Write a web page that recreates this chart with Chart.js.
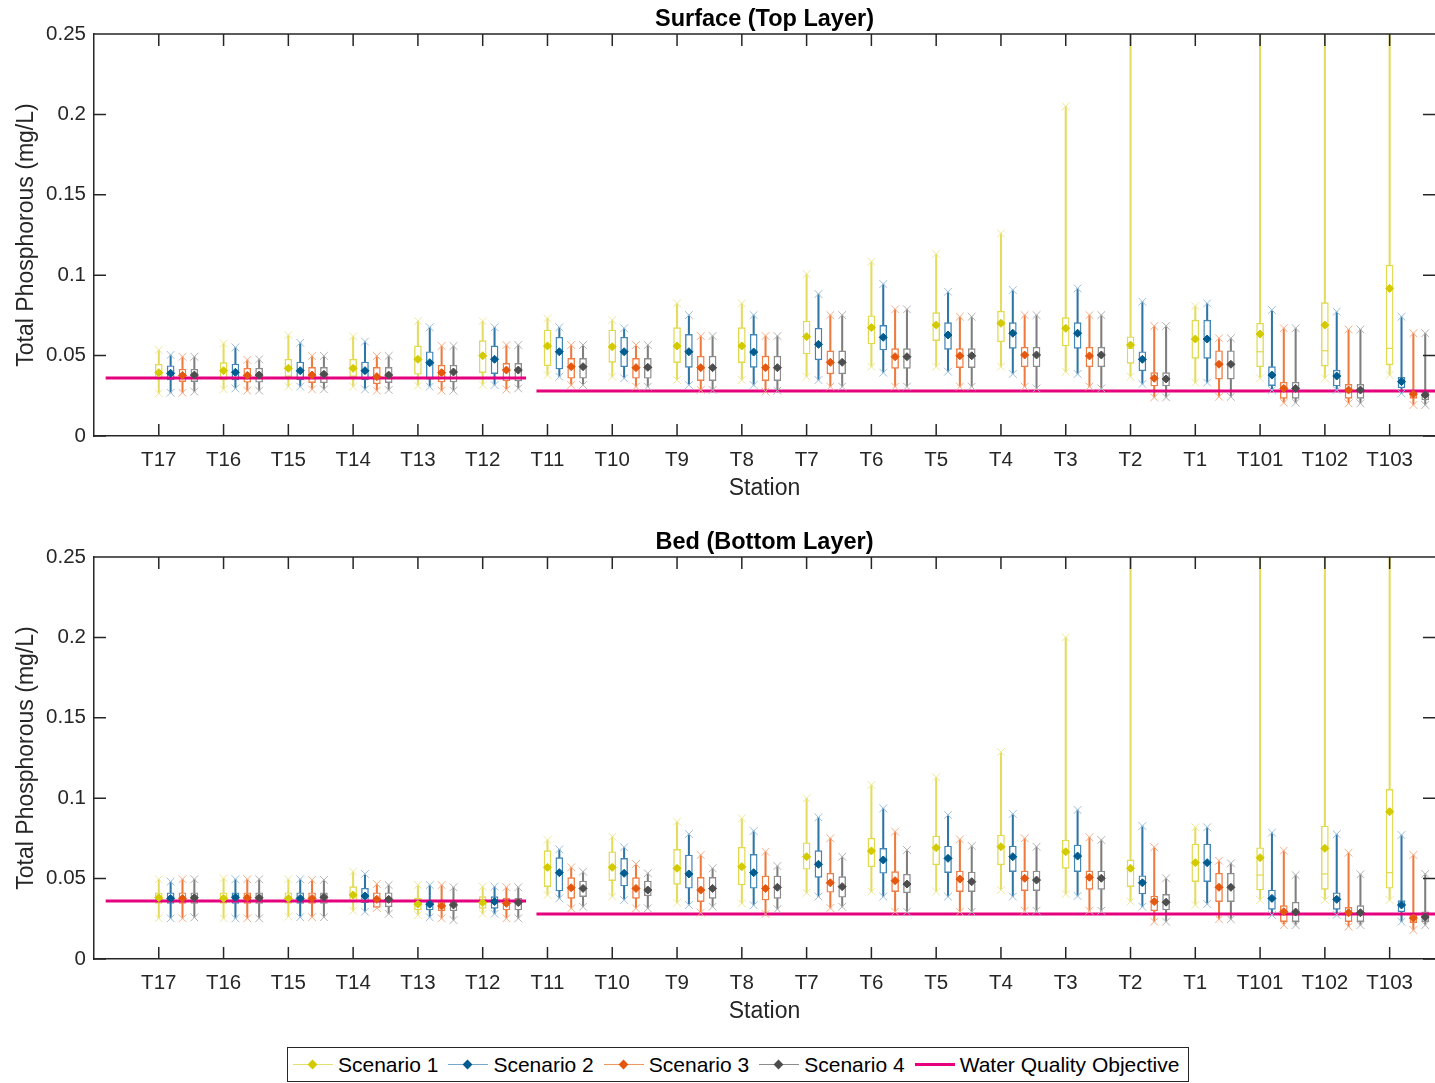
<!DOCTYPE html>
<html>
<head>
<meta charset="utf-8">
<script src="https://cdn.jsdelivr.net/npm/chart.js@4.4.1/dist/chart.umd.min.js"></script>
<style>
  html, body { margin: 0; padding: 0; background: #fff; overflow: hidden; }
  body { width: 1435px; height: 1083px; position: relative; font-family: 'Liberation Sans', Arial, sans-serif; }
  canvas { position: absolute; left: 0; }
  #surface { top: 0; }
  #bed { top: 523px; }
  #legend {
    position: absolute; left: 287px; top: 1047px; width: 902px; height: 35px;
    border: 1px solid #262626; display: flex; align-items: center; flex-wrap: nowrap;
    font-size: 21px; color: #000; padding-left: 5px; box-sizing: border-box; white-space: nowrap;
  }
  .item { display: flex; align-items: center; margin-right: 10px; flex-shrink: 0; }
  .sw { position: relative; width: 40px; height: 20px; margin-right: 5px; flex-shrink: 0; }
  .sw .ln { position: absolute; left: 0; right: 0; top: 9px; height: 1.5px; }
  .sw .dm { position: absolute; left: 16px; top: 6px; width: 7px; height: 7px; transform: rotate(45deg); }
</style>
</head>
<body>
<canvas id="surface" width="1435" height="510"></canvas>
<canvas id="bed" width="1435" height="510"></canvas>
<div id="legend"></div>
<script>
// categories
const stations = ['T17', 'T16', 'T15', 'T14', 'T13', 'T12', 'T11', 'T10', 'T9', 'T8',
  'T7', 'T6', 'T5', 'T4', 'T3', 'T2', 'T1', 'T101', 'T102', 'T103'];
const scenarios = ['Scenario 1', 'Scenario 2', 'Scenario 3', 'Scenario 4'];
const yTicks = [0, 0.05, 0.1, 0.15, 0.2, 0.25];

// water quality objective: level and station span of each segment
const wqoLabel = 'Water Quality Objective';
const wqoLevel = [0.036, 0.028];
const wqoFrom = [0.18, 6.83];
const wqoTo = [6.67, 20.7];

// Surface (Top Layer) - one row per scenario
const topMax = [
  [0.0535, 0.0576, 0.0628, 0.0620, 0.0715, 0.0715, 0.0732, 0.0721, 0.0825, 0.0825, 0.1007, 0.1084, 0.1132, 0.1260, 0.2050, 0.3000, 0.0808, 0.3000, 0.3000, 0.3000],
  [0.0504, 0.0551, 0.0580, 0.0587, 0.0676, 0.0676, 0.0676, 0.0670, 0.0752, 0.0752, 0.0883, 0.0945, 0.0897, 0.0908, 0.0918, 0.0835, 0.0825, 0.0784, 0.0773, 0.0742],
  [0.0493, 0.0473, 0.0498, 0.0498, 0.0560, 0.0566, 0.0566, 0.0566, 0.0622, 0.0622, 0.0752, 0.0788, 0.0742, 0.0752, 0.0752, 0.0684, 0.0608, 0.0670, 0.0663, 0.0639],
  [0.0493, 0.0477, 0.0498, 0.0498, 0.0560, 0.0566, 0.0566, 0.0566, 0.0622, 0.0622, 0.0752, 0.0788, 0.0742, 0.0752, 0.0752, 0.0684, 0.0608, 0.0670, 0.0663, 0.0639]
];
const topQ3 = [
  [0.0446, 0.0456, 0.0477, 0.0477, 0.0560, 0.0593, 0.0659, 0.0659, 0.0674, 0.0674, 0.0715, 0.0748, 0.0767, 0.0777, 0.0736, 0.0617, 0.0721, 0.0701, 0.0829, 0.1063],
  [0.0437, 0.0448, 0.0460, 0.0460, 0.0524, 0.0560, 0.0614, 0.0614, 0.0632, 0.0632, 0.0670, 0.0688, 0.0705, 0.0705, 0.0705, 0.0524, 0.0721, 0.0431, 0.0410, 0.0365],
  [0.0415, 0.0421, 0.0427, 0.0427, 0.0440, 0.0452, 0.0483, 0.0483, 0.0497, 0.0497, 0.0529, 0.0543, 0.0543, 0.0552, 0.0552, 0.0394, 0.0530, 0.0334, 0.0321, 0.0276],
  [0.0415, 0.0421, 0.0427, 0.0427, 0.0440, 0.0452, 0.0483, 0.0483, 0.0497, 0.0497, 0.0529, 0.0543, 0.0543, 0.0552, 0.0552, 0.0394, 0.0530, 0.0334, 0.0321, 0.0276]
];
const topMed = [
  [0.0390, 0.0402, 0.0418, 0.0418, 0.0472, 0.0494, 0.0555, 0.0550, 0.0555, 0.0555, 0.0612, 0.0668, 0.0684, 0.0696, 0.0664, 0.0545, 0.0600, 0.0524, 0.0530, 0.0545],
  [0.0388, 0.0394, 0.0404, 0.0404, 0.0452, 0.0474, 0.0520, 0.0520, 0.0520, 0.0518, 0.0566, 0.0610, 0.0624, 0.0635, 0.0635, 0.0474, 0.0600, 0.0376, 0.0370, 0.0335],
  [0.0375, 0.0375, 0.0377, 0.0367, 0.0392, 0.0407, 0.0428, 0.0422, 0.0422, 0.0422, 0.0455, 0.0490, 0.0496, 0.0501, 0.0495, 0.0356, 0.0443, 0.0293, 0.0283, 0.0258],
  [0.0377, 0.0377, 0.0381, 0.0377, 0.0395, 0.0407, 0.0428, 0.0424, 0.0422, 0.0422, 0.0455, 0.0490, 0.0496, 0.0501, 0.0501, 0.0352, 0.0443, 0.0293, 0.0283, 0.0252]
];
const topMean = [
  [0.0394, 0.0406, 0.0421, 0.0421, 0.0477, 0.0499, 0.0560, 0.0555, 0.0560, 0.0560, 0.0618, 0.0674, 0.0690, 0.0701, 0.0670, 0.0566, 0.0603, 0.0634, 0.0690, 0.0918],
  [0.0390, 0.0396, 0.0406, 0.0406, 0.0456, 0.0477, 0.0524, 0.0524, 0.0524, 0.0522, 0.0570, 0.0614, 0.0628, 0.0639, 0.0639, 0.0477, 0.0603, 0.0379, 0.0373, 0.0338],
  [0.0377, 0.0377, 0.0379, 0.0369, 0.0394, 0.0410, 0.0431, 0.0425, 0.0425, 0.0425, 0.0458, 0.0493, 0.0499, 0.0504, 0.0498, 0.0359, 0.0446, 0.0296, 0.0286, 0.0261],
  [0.0379, 0.0379, 0.0384, 0.0379, 0.0398, 0.0410, 0.0431, 0.0427, 0.0425, 0.0425, 0.0458, 0.0493, 0.0499, 0.0504, 0.0504, 0.0355, 0.0446, 0.0296, 0.0286, 0.0255]
];
const topQ1 = [
  [0.0353, 0.0348, 0.0369, 0.0369, 0.0384, 0.0394, 0.0437, 0.0458, 0.0456, 0.0456, 0.0510, 0.0572, 0.0593, 0.0586, 0.0560, 0.0452, 0.0483, 0.0431, 0.0435, 0.0442],
  [0.0348, 0.0348, 0.0348, 0.0348, 0.0353, 0.0388, 0.0417, 0.0431, 0.0427, 0.0427, 0.0473, 0.0535, 0.0539, 0.0545, 0.0545, 0.0406, 0.0483, 0.0313, 0.0311, 0.0300],
  [0.0338, 0.0334, 0.0332, 0.0324, 0.0336, 0.0342, 0.0359, 0.0359, 0.0344, 0.0344, 0.0386, 0.0421, 0.0425, 0.0431, 0.0431, 0.0311, 0.0354, 0.0234, 0.0234, 0.0234],
  [0.0338, 0.0334, 0.0330, 0.0332, 0.0336, 0.0342, 0.0359, 0.0359, 0.0344, 0.0344, 0.0386, 0.0421, 0.0425, 0.0431, 0.0431, 0.0311, 0.0354, 0.0234, 0.0234, 0.0224]
];
const topMin = [
  [0.0265, 0.0290, 0.0307, 0.0307, 0.0313, 0.0317, 0.0379, 0.0369, 0.0348, 0.0348, 0.0369, 0.0431, 0.0431, 0.0431, 0.0400, 0.0369, 0.0332, 0.0359, 0.0359, 0.0379],
  [0.0269, 0.0296, 0.0307, 0.0290, 0.0307, 0.0317, 0.0369, 0.0359, 0.0317, 0.0317, 0.0348, 0.0394, 0.0400, 0.0386, 0.0386, 0.0323, 0.0332, 0.0286, 0.0286, 0.0265],
  [0.0269, 0.0282, 0.0290, 0.0282, 0.0282, 0.0289, 0.0317, 0.0307, 0.0286, 0.0276, 0.0307, 0.0307, 0.0307, 0.0307, 0.0307, 0.0240, 0.0244, 0.0207, 0.0203, 0.0193],
  [0.0276, 0.0282, 0.0290, 0.0286, 0.0282, 0.0296, 0.0317, 0.0307, 0.0286, 0.0282, 0.0307, 0.0307, 0.0307, 0.0296, 0.0296, 0.0240, 0.0244, 0.0207, 0.0203, 0.0193]
];

// Bed (Bottom Layer) - one row per scenario
const bedMax = [
  [0.0496, 0.0502, 0.0496, 0.0543, 0.0460, 0.0450, 0.0740, 0.0761, 0.0854, 0.0875, 0.0999, 0.1082, 0.1130, 0.1287, 0.2000, 0.3000, 0.0819, 0.3000, 0.3000, 0.3000],
  [0.0481, 0.0496, 0.0496, 0.0529, 0.0460, 0.0450, 0.0682, 0.0695, 0.0777, 0.0796, 0.0881, 0.0937, 0.0896, 0.0902, 0.0927, 0.0827, 0.0819, 0.0786, 0.0776, 0.0771],
  [0.0496, 0.0496, 0.0492, 0.0466, 0.0460, 0.0446, 0.0570, 0.0591, 0.0647, 0.0667, 0.0751, 0.0792, 0.0744, 0.0751, 0.0757, 0.0695, 0.0611, 0.0674, 0.0661, 0.0647],
  [0.0496, 0.0496, 0.0492, 0.0460, 0.0446, 0.0446, 0.0543, 0.0533, 0.0564, 0.0578, 0.0636, 0.0678, 0.0703, 0.0698, 0.0740, 0.0502, 0.0595, 0.0522, 0.0527, 0.0529]
];
const bedQ3 = [
  [0.0412, 0.0412, 0.0412, 0.0450, 0.0377, 0.0388, 0.0674, 0.0667, 0.0682, 0.0695, 0.0723, 0.0751, 0.0765, 0.0771, 0.0740, 0.0616, 0.0715, 0.0692, 0.0827, 0.1055],
  [0.0412, 0.0412, 0.0412, 0.0440, 0.0367, 0.0388, 0.0630, 0.0626, 0.0647, 0.0651, 0.0674, 0.0688, 0.0703, 0.0703, 0.0709, 0.0518, 0.0715, 0.0429, 0.0412, 0.0363],
  [0.0412, 0.0412, 0.0412, 0.0412, 0.0357, 0.0377, 0.0506, 0.0506, 0.0508, 0.0516, 0.0533, 0.0543, 0.0547, 0.0547, 0.0547, 0.0392, 0.0533, 0.0332, 0.0321, 0.0280],
  [0.0412, 0.0412, 0.0412, 0.0412, 0.0357, 0.0377, 0.0485, 0.0485, 0.0508, 0.0516, 0.0512, 0.0527, 0.0541, 0.0547, 0.0547, 0.0402, 0.0533, 0.0353, 0.0332, 0.0294]
];
const bedMed = [
  [0.0378, 0.0375, 0.0375, 0.0395, 0.0339, 0.0349, 0.0565, 0.0565, 0.0559, 0.0569, 0.0631, 0.0667, 0.0687, 0.0693, 0.0662, 0.0550, 0.0595, 0.0522, 0.0529, 0.0537],
  [0.0375, 0.0381, 0.0375, 0.0389, 0.0339, 0.0355, 0.0533, 0.0529, 0.0525, 0.0533, 0.0585, 0.0612, 0.0622, 0.0632, 0.0636, 0.0471, 0.0595, 0.0375, 0.0369, 0.0334],
  [0.0375, 0.0379, 0.0375, 0.0369, 0.0328, 0.0344, 0.0440, 0.0436, 0.0426, 0.0436, 0.0471, 0.0484, 0.0494, 0.0499, 0.0505, 0.0355, 0.0443, 0.0292, 0.0286, 0.0253],
  [0.0379, 0.0379, 0.0381, 0.0369, 0.0334, 0.0349, 0.0436, 0.0426, 0.0436, 0.0443, 0.0447, 0.0463, 0.0478, 0.0488, 0.0499, 0.0351, 0.0443, 0.0290, 0.0286, 0.0259]
];
const bedMean = [
  [0.0381, 0.0377, 0.0377, 0.0398, 0.0341, 0.0351, 0.0570, 0.0570, 0.0564, 0.0574, 0.0636, 0.0672, 0.0692, 0.0698, 0.0667, 0.0564, 0.0599, 0.0630, 0.0688, 0.0916],
  [0.0377, 0.0384, 0.0377, 0.0392, 0.0341, 0.0357, 0.0537, 0.0533, 0.0529, 0.0537, 0.0589, 0.0616, 0.0626, 0.0636, 0.0640, 0.0474, 0.0599, 0.0377, 0.0371, 0.0336],
  [0.0377, 0.0381, 0.0377, 0.0371, 0.0330, 0.0346, 0.0443, 0.0439, 0.0429, 0.0439, 0.0474, 0.0487, 0.0497, 0.0502, 0.0508, 0.0357, 0.0446, 0.0294, 0.0288, 0.0255],
  [0.0381, 0.0381, 0.0384, 0.0371, 0.0336, 0.0351, 0.0439, 0.0429, 0.0439, 0.0446, 0.0450, 0.0466, 0.0481, 0.0491, 0.0502, 0.0353, 0.0446, 0.0292, 0.0288, 0.0261]
];
const bedQ1 = [
  [0.0346, 0.0346, 0.0346, 0.0357, 0.0305, 0.0315, 0.0450, 0.0487, 0.0464, 0.0460, 0.0558, 0.0574, 0.0585, 0.0585, 0.0564, 0.0450, 0.0481, 0.0429, 0.0433, 0.0440],
  [0.0346, 0.0346, 0.0346, 0.0350, 0.0305, 0.0315, 0.0423, 0.0454, 0.0440, 0.0440, 0.0508, 0.0533, 0.0537, 0.0543, 0.0543, 0.0404, 0.0481, 0.0309, 0.0309, 0.0294],
  [0.0346, 0.0346, 0.0346, 0.0321, 0.0300, 0.0305, 0.0377, 0.0377, 0.0357, 0.0367, 0.0415, 0.0419, 0.0419, 0.0425, 0.0433, 0.0300, 0.0357, 0.0232, 0.0232, 0.0226],
  [0.0346, 0.0346, 0.0346, 0.0324, 0.0300, 0.0305, 0.0388, 0.0393, 0.0377, 0.0377, 0.0384, 0.0412, 0.0419, 0.0425, 0.0433, 0.0305, 0.0357, 0.0232, 0.0232, 0.0232]
];
const bedMin = [
  [0.0253, 0.0253, 0.0264, 0.0300, 0.0273, 0.0281, 0.0398, 0.0388, 0.0350, 0.0346, 0.0412, 0.0419, 0.0419, 0.0429, 0.0404, 0.0357, 0.0336, 0.0367, 0.0367, 0.0367],
  [0.0253, 0.0253, 0.0260, 0.0294, 0.0259, 0.0281, 0.0377, 0.0367, 0.0336, 0.0334, 0.0388, 0.0388, 0.0388, 0.0388, 0.0392, 0.0325, 0.0342, 0.0274, 0.0274, 0.0232],
  [0.0253, 0.0253, 0.0260, 0.0317, 0.0253, 0.0253, 0.0315, 0.0315, 0.0288, 0.0280, 0.0317, 0.0294, 0.0294, 0.0300, 0.0300, 0.0232, 0.0247, 0.0211, 0.0201, 0.0180],
  [0.0259, 0.0253, 0.0260, 0.0281, 0.0242, 0.0253, 0.0325, 0.0315, 0.0325, 0.0310, 0.0325, 0.0294, 0.0294, 0.0300, 0.0300, 0.0232, 0.0247, 0.0211, 0.0211, 0.0211]
];

// styles
const markColor = ['#D3CA00', '#005C8E', '#E4570F', '#4D4D4D'];
const boxColor = ['#E1D94E', '#4286B6', '#EF7E45', '#8C8C8C'];
const whiskColor = ['#E3DC5C', '#2F76A6', '#EE7A3E', '#7F7F7F'];
const capColor = ['#EDE89A', '#9CC0DA', '#F5AE88', '#B3B3B3'];
const legendLine = ['#E6E070', '#74A9CD', '#F0965F', '#8C8C8C'];
const wqoColor = '#E5007E';
const axisColor = '#262626';
const FONT = "'Liberation Sans', Arial, sans-serif";
const OFF = 0.183;
const TICK = 12;

Chart.defaults.font.family = FONT;
Chart.defaults.color = axisColor;

const xAt = (i, k) => i + 1 + k * OFF;

function buildDatasets(p) {
  const out = [];
  for (let k = 0; k < scenarios.length; k++) {
    out.push({
      type: 'bar', order: 6, grouped: false, barThickness: 1.4, borderWidth: 0,
      backgroundColor: whiskColor[k],
      data: stations.map((s, i) => ({ x: xAt(i, k), y: [p.min[k][i], p.max[k][i]] }))
    });
    out.push({
      type: 'bar', order: 5, grouped: false, barThickness: 7, borderWidth: 1.4, borderSkipped: false,
      backgroundColor: '#ffffff', borderColor: boxColor[k],
      data: stations.map((s, i) => ({ x: xAt(i, k), y: [p.q1[k][i], p.q3[k][i]] }))
    });
    out.push({
      type: 'scatter', order: 4, pointStyle: 'line', pointRadius: 3.5, borderWidth: 1.2,
      borderColor: boxColor[k],
      data: stations.map((s, i) => ({ x: xAt(i, k), y: p.med[k][i] }))
    });
    out.push({
      type: 'scatter', order: 2, pointStyle: 'crossRot', pointRadius: 5.5, borderWidth: 1,
      borderColor: capColor[k],
      data: stations.map((s, i) => ({ x: xAt(i, k), y: p.min[k][i] }))
        .concat(stations.map((s, i) => ({ x: xAt(i, k), y: p.max[k][i] })))
    });
    out.push({
      type: 'scatter', order: 1, pointStyle: 'rectRot', pointRadius: 4, borderWidth: 1,
      backgroundColor: markColor[k], borderColor: markColor[k],
      data: stations.map((s, i) => ({ x: xAt(i, k), y: p.mean[k][i] }))
    });
  }
  for (let j = 0; j < wqoLevel.length; j++) {
    out.push({
      type: 'line', order: 3, borderColor: wqoColor, borderWidth: 3, pointRadius: 0,
      data: [{ x: wqoFrom[j], y: wqoLevel[j] }, { x: wqoTo[j], y: wqoLevel[j] }]
    });
  }
  return out;
}

// inside tick marks on all four sides plus the top frame line
const innerTicks = {
  id: 'innerTicks',
  afterDraw(chart) {
    const { ctx, chartArea: a, scales: { x, y } } = chart;
    ctx.save();
    ctx.strokeStyle = axisColor;
    ctx.lineWidth = 1.5;
    ctx.beginPath();
    ctx.moveTo(a.left, a.top);
    ctx.lineTo(a.right, a.top);
    x.ticks.forEach(t => {
      const px = x.getPixelForValue(t.value);
      ctx.moveTo(px, a.bottom); ctx.lineTo(px, a.bottom - TICK);
      ctx.moveTo(px, a.top); ctx.lineTo(px, a.top + TICK);
    });
    y.ticks.forEach(t => {
      const py = y.getPixelForValue(t.value);
      ctx.moveTo(a.left, py); ctx.lineTo(a.left + TICK, py);
      ctx.moveTo(a.right, py); ctx.lineTo(a.right - TICK, py);
    });
    ctx.stroke();
    ctx.restore();
  }
};

function makeChart(id, title, p) {
  return new Chart(document.getElementById(id), {
    type: 'scatter',
    data: { datasets: buildDatasets(p) },
    options: {
      responsive: false,
      devicePixelRatio: 1,
      animation: false,
      layout: { padding: 0, autoPadding: false },
      plugins: {
        legend: { display: false },
        tooltip: { enabled: false },
        title: {
          display: true, text: title, fullSize: false, color: '#000',
          font: { size: 23.5, weight: 'bold' }, padding: { top: 5.5, bottom: 0.3 }
        }
      },
      scales: {
        x: {
          type: 'linear', min: 0, max: 20.7, offset: false,
          grid: { display: false, drawTicks: false, offset: false },
          border: { display: true, color: axisColor, width: 1.5 },
          afterBuildTicks: s => { s.ticks = stations.map((n, i) => ({ value: i + 1 })); },
          afterFit: s => { s.height = 74; s.paddingLeft = 0; s.paddingRight = 0; },
          ticks: {
            autoSkip: false, maxRotation: 0, padding: 12, color: axisColor,
            font: { size: 20.5 },
            callback: v => stations[Math.round(v) - 1] || ''
          },
          title: {
            display: true, text: 'Station', color: axisColor,
            font: { size: 23 }, padding: { top: 0, bottom: 8 }
          }
        },
        y: {
          min: 0, max: 0.25,
          grid: { display: false, drawTicks: false },
          border: { display: true, color: axisColor, width: 1.5 },
          afterBuildTicks: s => { s.ticks = yTicks.map(v => ({ value: v })); },
          afterFit: s => { s.width = 94; },
          ticks: {
            padding: 8, color: axisColor, font: { size: 20.5 },
            callback: v => String(+v.toFixed(2))
          },
          title: {
            display: true, text: 'Total Phosphorous (mg/L)', color: axisColor,
            font: { size: 23 }, padding: { top: 13, bottom: 0 }
          }
        }
      }
    },
    plugins: [innerTicks]
  });
}

makeChart('surface', 'Surface (Top Layer)',
  { max: topMax, q3: topQ3, med: topMed, mean: topMean, q1: topQ1, min: topMin });
makeChart('bed', 'Bed (Bottom Layer)',
  { max: bedMax, q3: bedQ3, med: bedMed, mean: bedMean, q1: bedQ1, min: bedMin });

// legend
const legend = document.getElementById('legend');
scenarios.forEach((name, k) => {
  const item = document.createElement('div');
  item.className = 'item';
  item.innerHTML = '<span class="sw"><span class="ln" style="background:' + legendLine[k] +
    '"></span><span class="dm" style="background:' + markColor[k] + '"></span></span><span>' + name + '</span>';
  legend.appendChild(item);
});
const w = document.createElement('div');
w.className = 'item';
w.innerHTML = '<span class="sw"><span class="ln" style="background:' + wqoColor +
  ';height:3px;top:8px"></span></span><span>' + wqoLabel + '</span>';
legend.appendChild(w);
</script>
</body>
</html>
